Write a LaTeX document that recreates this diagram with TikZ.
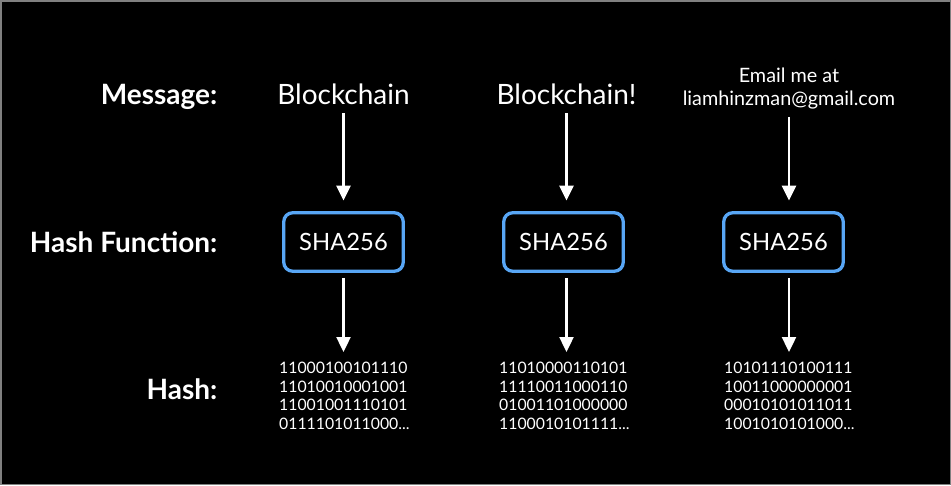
\documentclass[tikz,border=0pt]{standalone}
\usepackage{fontspec}
\setmainfont{Lato}
\usetikzlibrary{arrows.meta}
\definecolor{boxblue}{RGB}{88,166,245}
\definecolor{framegray}{RGB}{128,128,128}
\begin{document}
\begin{tikzpicture}[x=1pt,y=-1pt,
  lbl/.style={font=\fontsize{28}{30}\selectfont\bfseries, text=white, anchor=base east, inner sep=0pt},
  msg/.style={font=\fontsize{28}{32}\selectfont, text=white, anchor=base, inner sep=0pt},
  mail/.style={font=\fontsize{19.8}{22}\selectfont, text=white, anchor=base, inner sep=0pt},
  hashbox/.style={draw=boxblue, line width=3.3pt, rounded corners=9pt, minimum width=119.5pt, minimum height=58.5pt, text=white, font=\fontsize{23.8}{26}\selectfont, inner sep=0pt},
  hashout/.style={font=\fontsize{15.8}{18.9}\selectfont, text=white, align=left, anchor=north west, inner sep=0pt},
  flow/.style={draw=white, line width=2.4pt, -{Triangle[width=14pt,length=15pt]}}
]
\fill[black] (0,0) rectangle (951,485);
\draw[framegray, line width=1.5pt] (0.75,0.75) rectangle (950.25,484.25);
\useasboundingbox (0,0) rectangle (951,485);

% row labels
\node[lbl] (lmsg) at (217.5,104) {Message:};
\node[lbl] (lfun) at (217.5,252) {Hash Function:};
\node[lbl] (lhash) at (217.5,399.5) {Hash:};

% messages
\node[msg] (m1) at (343.5,104) {Blockchain};
\node[msg] (m2) at (566.5,104) {Blockchain!};
\node[mail] (m3a) at (789,82) {Email me at};
\node[mail] (m3) at (789,105) {liamhinzman@gmail.com};

% hash function boxes
\node[hashbox] (h1) at (343.5,242) {SHA256};
\node[hashbox] (h2) at (563.5,242) {SHA256};
\node[hashbox] (h3) at (783.5,242) {SHA256};

% hashes
\node[hashout] (o1) at (279,361.5) {11000100101110\\11010010001001\\11001001110101\\0111101011000...};
\node[hashout] (o2) at (499,361.5) {11010000110101\\11110011000110\\01001101000000\\1100010101111...};
\node[hashout] (o3) at (724,361.5) {10101110100111\\10011000000001\\00010101011011\\1001010101000...};

% connectors
\draw[flow, shorten <=9pt, shorten >=10.5pt] (m1.south) -- (m1.south |- h1.north);
\draw[flow, shorten <=9pt, shorten >=10.5pt] (m2.south) -- (m2.south |- h2.north);
\draw[flow, shorten <=8pt, shorten >=10.5pt] (m3.south) -- (m3.south |- h3.north);
\draw[flow, shorten <=5pt, shorten >=9.5pt] (h1.south -| m1.south) -- (o1.north -| m1.south);
\draw[flow, shorten <=5pt, shorten >=9.5pt] (h2.south -| m2.south) -- (o2.north -| m2.south);
\draw[flow, shorten <=5pt, shorten >=9.5pt] (h3.south -| m3.south) -- (o3.north -| m3.south);
\end{tikzpicture}
\end{document}
